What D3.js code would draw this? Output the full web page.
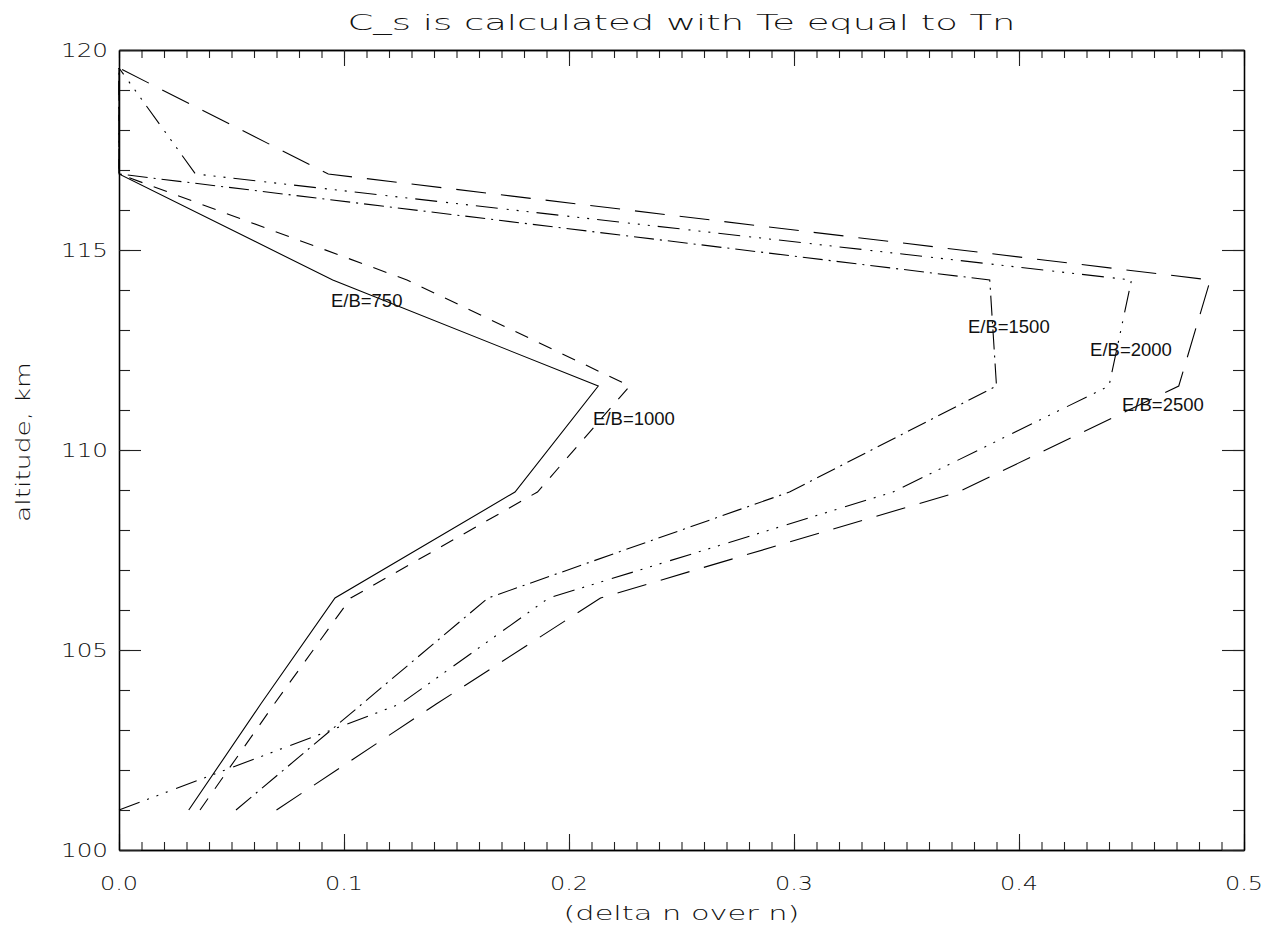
<!DOCTYPE html>
<html>
<head>
<meta charset="utf-8">
<script src="https://cdn.jsdelivr.net/npm/d3@7"></script>
<style>
  body { margin: 0; background: #fff; }
  .hershey { font-family: "DejaVu Sans", sans-serif; font-weight: 200; fill: #111; }
  .lbl { font-family: "Liberation Sans", Arial, sans-serif; font-size: 18.5px; fill: #111; }
</style>
</head>
<body>
<div id="chart"></div>
<script>
// altitude levels (km) shared by every curve
var altitudes = [101.0, 103.65, 106.3, 108.95, 111.6, 114.25, 116.9, 119.55];

// delta n over n for each E/B value
var eb750  = [0.031, 0.063, 0.096, 0.176, 0.213, 0.095, 0.000, 0.000];
var eb1000 = [0.036, 0.069, 0.103, 0.186, 0.227, 0.128, 0.000, 0.000];
var eb1500 = [0.052, 0.108, 0.164, 0.298, 0.390, 0.387, 0.000, 0.000];
var eb2000 = [0.000, 0.125, 0.191, 0.344, 0.440, 0.450, 0.034, 0.000];
var eb2500 = [0.070, 0.141, 0.214, 0.373, 0.471, 0.485, 0.093, 0.000];

var seriesNames = ["E/B=750", "E/B=1000", "E/B=1500", "E/B=2000", "E/B=2500"];
// where the xyouts labels sit, in data units
var labelX = [0.0942, 0.2107, 0.3773, 0.4316, 0.4458];
var labelY = [113.575, 110.625, 112.925, 112.35, 110.975];

var xTicks = [0.0, 0.1, 0.2, 0.3, 0.4, 0.5];
var yTicks = [100, 105, 110, 115, 120];

var W = 1278, H = 936;
var margin = {top: 50, right: 34, bottom: 86, left: 119};

var svg = d3.select("#chart").append("svg")
  .attr("width", W).attr("height", H);

var x = d3.scaleLinear().domain([0, 0.5]).range([margin.left, W - margin.right]);
var y = d3.scaleLinear().domain([100, 120]).range([H - margin.bottom, margin.top]);

var dashes = ["none", "14,12", "20,6,2,6", "22,8,2,8,2,8,2,9", "30,15"];
var allSeries = [eb750, eb1000, eb1500, eb2000, eb2500];

var line = d3.line()
  .x(function(d){ return x(d[0]); })
  .y(function(d){ return y(d[1]); });

svg.append("g").selectAll("path")
  .data(allSeries)
  .enter().append("path")
    .attr("d", function(s){ return line(s.map(function(v, i){ return [v, altitudes[i]]; })); })
    .attr("fill", "none")
    .attr("stroke", "#000")
    .attr("stroke-width", 1.1)
    .attr("stroke-dasharray", function(s, i){ return dashes[i]; });

svg.append("g").selectAll("text")
  .data(seriesNames)
  .enter().append("text")
    .attr("class", "lbl")
    .attr("x", function(d, i){ return x(labelX[i]); })
    .attr("y", function(d, i){ return y(labelY[i]); })
    .text(function(d){ return d; });

// axes, IDL style: box with inward ticks on all sides
var xMinor = d3.range(0, 0.5001, 0.01);
var yMinor = d3.range(100, 120.001, 1);

function axisGroup(axis, tx, ty) {
  var g = svg.append("g").attr("transform", "translate(" + tx + "," + ty + ")").call(axis);
  g.selectAll("path.domain").attr("stroke", "#000").attr("stroke-width", 1.3);
  g.selectAll(".tick line").attr("stroke", "#222").attr("stroke-width", 1.1);
  g.selectAll("text").remove();
  return g;
}

[[d3.axisBottom, H - margin.bottom], [d3.axisTop, margin.top]].forEach(function(a){
  axisGroup(a[0](x).tickValues(xMinor).tickSize(-8).tickSizeOuter(0).tickFormat(""), 0, a[1]);
  axisGroup(a[0](x).tickValues(xTicks).tickSize(-16).tickSizeOuter(0).tickFormat(""), 0, a[1]);
});
[[d3.axisLeft, margin.left], [d3.axisRight, W - margin.right]].forEach(function(a){
  axisGroup(a[0](y).tickValues(yMinor).tickSize(-11).tickSizeOuter(0).tickFormat(""), a[1], 0);
  axisGroup(a[0](y).tickValues(yTicks).tickSize(-22).tickSizeOuter(0).tickFormat(""), a[1], 0);
});

// tick labels (Hershey-like: wide glyphs, so stretch them)
var fmtX = d3.format(".1f");
svg.append("g").selectAll("text")
  .data(xTicks)
  .enter().append("text")
    .attr("class", "hershey")
    .attr("text-anchor", "middle")
    .attr("font-size", 20)
    .attr("x", function(d){ return x(d); })
    .attr("y", H - margin.bottom + 40)
    .attr("textLength", 38)
    .attr("lengthAdjust", "spacingAndGlyphs")
    .text(function(d){ return fmtX(d); });

svg.append("g").selectAll("text")
  .data(yTicks)
  .enter().append("text")
    .attr("class", "hershey")
    .attr("text-anchor", "end")
    .attr("font-size", 20)
    .attr("x", margin.left - 11)
    .attr("y", function(d){ return y(d) + 7; })
    .attr("textLength", 47)
    .attr("lengthAdjust", "spacingAndGlyphs")
    .text(function(d){ return d; });

// titles
svg.append("text")
  .attr("class", "hershey")
  .attr("x", (x(0) + x(0.5)) / 2)
  .attr("y", 30)
  .attr("text-anchor", "middle")
  .attr("font-size", 22)
  .attr("textLength", 668)
  .attr("lengthAdjust", "spacingAndGlyphs")
  .text("C_s is calculated with Te equal to Tn");

svg.append("text")
  .attr("class", "hershey")
  .attr("x", (x(0) + x(0.5)) / 2)
  .attr("y", 920)
  .attr("text-anchor", "middle")
  .attr("font-size", 20)
  .attr("textLength", 236)
  .attr("lengthAdjust", "spacingAndGlyphs")
  .text("(delta n over n)");

svg.append("text")
  .attr("class", "hershey")
  .attr("transform", "translate(30," + y(110.2) + ") rotate(-90)")
  .attr("text-anchor", "middle")
  .attr("font-size", 20)
  .attr("textLength", 160)
  .attr("lengthAdjust", "spacingAndGlyphs")
  .text("altitude, km");
</script>
</body>
</html>
